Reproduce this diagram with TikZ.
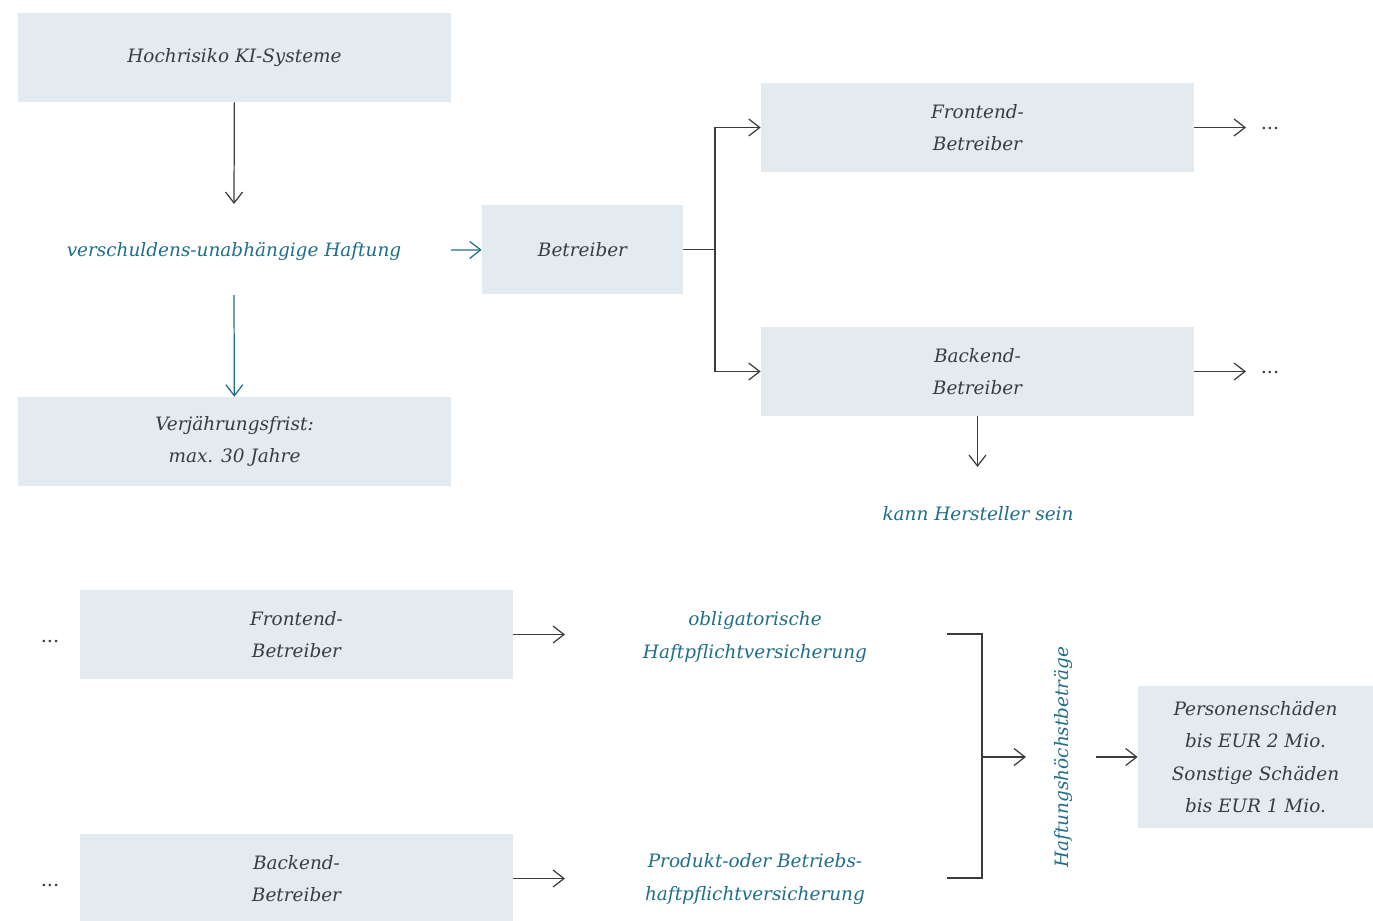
\documentclass[tikz,border=0pt]{standalone}
\usepackage{fontspec}
\setmainfont{DejaVu Serif}
\usepackage{tikz}
\usetikzlibrary{arrows.meta}
\definecolor{boxfill}{RGB}{227,235,241}
\definecolor{textgray}{RGB}{58,58,66}
\definecolor{teal}{RGB}{30,110,136}
\definecolor{linegray}{RGB}{60,60,64}

\begin{document}
\begin{tikzpicture}[x=0.02cm,y=-0.02cm]
  \tikzset{box/.style={fill=boxfill, text=textgray, align=center, font=\itshape\fontsize{10.5}{18.4}\selectfont, inner sep=0pt},
    note/.style={text=teal, align=center, font=\itshape\fontsize{10.5}{18.4}\selectfont},
    dots/.style={text=textgray, font=\fontsize{11}{12}\selectfont},
    arr/.style={-{Straight Barb[length=2.2mm,width=3.4mm]}, linegray, line width=0.7pt},
    tarr/.style={-{Straight Barb[length=2.2mm,width=3.4mm]}, teal, line width=0.7pt},
    ln/.style={linegray, line width=0.7pt}}
  \useasboundingbox (0,0) rectangle (1373,920);
  % top left column
  \node[box, minimum width=8.66cm, minimum height=1.78cm] (hochrisiko) at (234.5,57.5) {Hochrisiko KI-Systeme};
  \node[note] (haftung) at (234,251) {verschuldens-unabhängige Haftung};
  \node[box, minimum width=8.66cm, minimum height=1.78cm] (frist) at (234.5,441.5) {Verjährungsfrist:\\max. 30 Jahre};
  \coordinate (h1) at (234,204);
  \coordinate (h2) at (234,295);
  \draw[arr] (hochrisiko) -- (h1);
  \draw[tarr] (h2) -- (frist);
  % betreiber
  \node[box, minimum width=4.02cm, minimum height=1.78cm] (betreiber) at (582.5,249.5) {Betreiber};
  \coordinate (h3) at (451,250);
  \draw[tarr] (h3) -- (betreiber);
  \node[box, minimum width=8.66cm, minimum height=1.78cm] (front) at (977.5,127.5) {Frontend-\\Betreiber};
  \node[box, minimum width=8.66cm, minimum height=1.78cm] (back) at (977.5,371.5) {Backend-\\Betreiber};
  \coordinate (split) at (715,249.5);
  \draw[ln] (betreiber) -- (split);
  \draw[arr] (split) |- (front);
  \draw[arr] (split) |- (back);
  \node[dots] (frontdots) at (1270,129) {...};
  \node[dots] (backdots) at (1270,373) {...};
  \coordinate (f1) at (1246,127.5);
  \coordinate (b1) at (1246,371.5);
  \draw[arr] (front) -- (f1);
  \draw[arr] (back) -- (b1);
  \node[note] (hersteller) at (978,514) {kann Hersteller sein};
  \coordinate (b2) at (977.5,467);
  \draw[arr] (back) -- (b2);
  % bottom part
  \node[dots] (dots1) at (50,642) {...};
  \node[dots] (dots2) at (50,886) {...};
  \node[box, minimum width=8.66cm, minimum height=1.78cm] (front2) at (296.5,634.5) {Frontend-\\Betreiber};
  \node[box, minimum width=8.66cm, minimum height=1.78cm] (back2) at (296.5,878.5) {Backend-\\Betreiber};
  \node[note] (oblig) at (755,637) {obligatorische\\Haftpflichtversicherung};
  \node[note] (produkt) at (755,879) {Produkt-oder Betriebs-\\haftpflichtversicherung};
  \coordinate (o1) at (565,634.5);
  \coordinate (p1) at (565,878.5);
  \draw[arr] (front2) -- (o1);
  \draw[arr] (back2) -- (p1);
  \coordinate (brtop) at (947,634);
  \coordinate (brbot) at (947,878);
  \coordinate (brmid) at (982,757);
  \draw[ln] (brtop) -| (brmid) |- (brbot);
  \node[note, rotate=90] (hoechst) at (1063,757) {Haftungshöchstbeträge};
  \coordinate (m1) at (1026,757);
  \draw[arr] (brmid) -- (m1);
  \node[box, minimum width=4.7cm, minimum height=2.84cm] (schaeden) at (1255.5,757) {Personenschäden\\bis EUR 2 Mio.\\Sonstige Schäden\\bis EUR 1 Mio.};
  \coordinate (m2) at (1096,757);
  \draw[arr] (m2) -- (schaeden);
\end{tikzpicture}
\end{document}
